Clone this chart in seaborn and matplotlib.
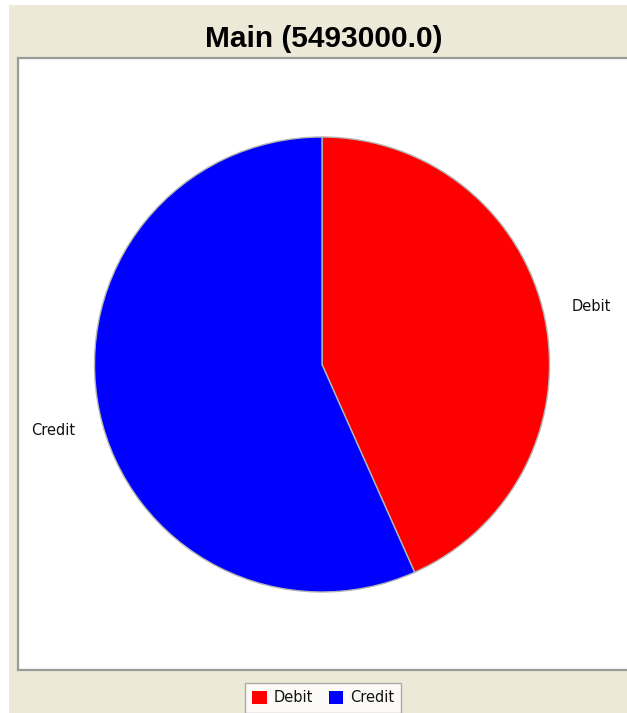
import matplotlib
matplotlib.use("Agg")
import matplotlib.pyplot as plt
from matplotlib.patches import Patch, Rectangle
import seaborn as sns

# Account totals
categories = ["Debit", "Credit"]
amounts = [2380000, 3113000]
slice_colors = ["#FF0000", "#0000FF"]
title_text = "Main (5493000.0)"

sns.set_theme(style="white")
plt.rcParams["font.family"] = ["DejaVu Sans"]
palette = sns.color_palette(slice_colors)

W, H = 627, 713
fig = plt.figure(figsize=(W / 100, H / 100), dpi=100)
fig.patch.set_facecolor("#ECE9D8")

# thin white margin at the top and left of the canvas
fig.patches.append(Rectangle((0, 0), 9 / W, 1, transform=fig.transFigure,
                             facecolor="white", edgecolor="none", zorder=0))
fig.patches.append(Rectangle((0, 1 - 5 / H), 1, 5 / H, transform=fig.transFigure,
                             facecolor="white", edgecolor="none", zorder=0))

# plot area in pixel terms
left_px, right_px, top_px, bottom_px = 18, 628, 58, 670
ax = fig.add_axes([left_px / W, 1 - bottom_px / H,
                   (right_px - left_px) / W, (bottom_px - top_px) / H])
ax.set_facecolor("white")

cx, cy, r = 322.0, 364.5, 227.5
wedges, _ = ax.pie(amounts, colors=palette, startangle=90, counterclock=False,
                   wedgeprops=dict(edgecolor="#B4B4B4", linewidth=1.0),
                   frame=True)
ax.set_aspect("auto")
ax.set_xlim((left_px - cx) / r, (right_px - cx) / r)
ax.set_ylim((cy - bottom_px) / r, (cy - top_px) / r)
ax.set_xticks([])
ax.set_yticks([])
for side in ["left", "top", "bottom"]:
    ax.spines[side].set_visible(True)
    ax.spines[side].set_color("#9A9A9A")
    ax.spines[side].set_linewidth(1.6)
ax.spines["right"].set_visible(False)

# section labels in side columns
label_spots = {"Debit": (1.182, 0.257), "Credit": (-1.182, -0.292)}
for name in categories:
    lx, ly = label_spots[name]
    ax.text(lx, ly, name, ha="center", va="center", fontsize=10.5,
            color="#111111", fontfamily="DejaVu Sans")

fig.text(323.5 / W, 1 - 47 / H, title_text, ha="center", va="baseline",
         fontsize=21.5, fontweight="bold", fontfamily="Liberation Sans",
         color="black")

handles = [Patch(facecolor=c, edgecolor="none", label=n)
           for n, c in zip(categories, palette)]
leg = fig.legend(handles=handles, loc="upper center",
                 bbox_to_anchor=(323 / W, 1 - 683 / H), ncol=2,
                 fontsize=10.5, frameon=True, fancybox=False,
                 handlelength=1.0, handleheight=1.0, handletextpad=0.45,
                 columnspacing=1.1, borderpad=0.5, borderaxespad=0)
leg.get_frame().set_edgecolor("#9A9A9A")
leg.get_frame().set_linewidth(1.0)
leg.get_frame().set_facecolor("white")
for t in leg.get_texts():
    t.set_color("#111111")

fig.savefig("out.png", dpi=100, facecolor=fig.get_facecolor())
